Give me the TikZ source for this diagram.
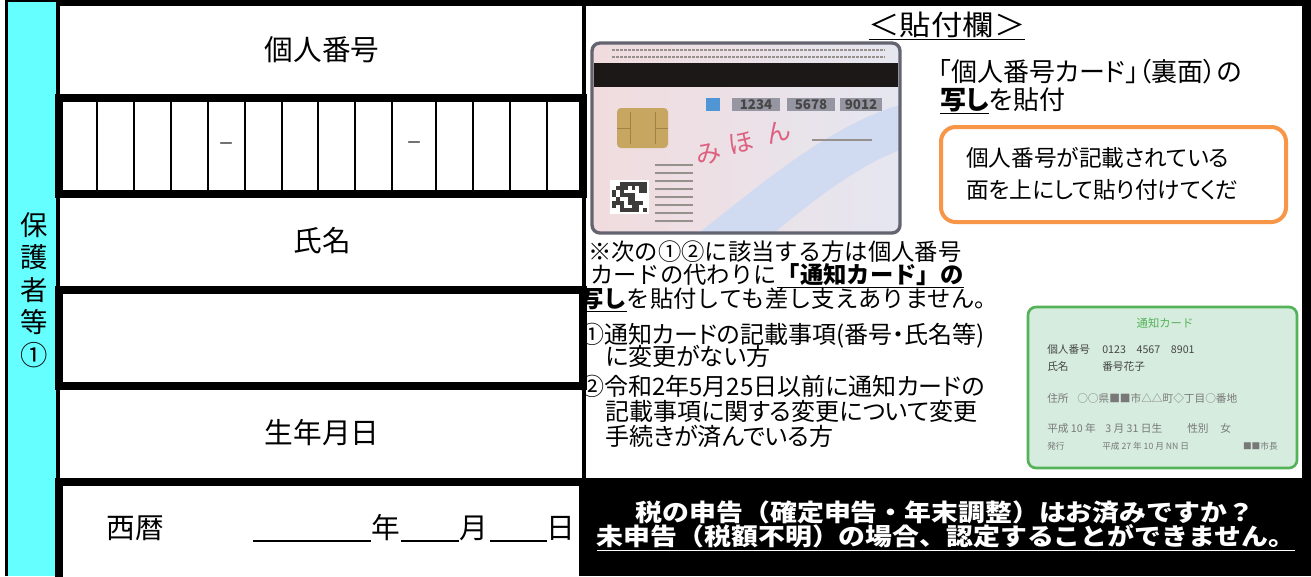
\documentclass[tikz,border=0pt]{standalone}
\usepackage{fontspec}
\newfontfamily\jp{Noto Sans CJK JP}
\newfontfamily\jpp[RawFeature=+palt]{Noto Sans CJK JP}
\newfontfamily\jpx[FakeStretch=1.12]{Noto Sans CJK JP}
\definecolor{guardcyan}{RGB}{102,255,255}
\definecolor{noteorange}{RGB}{247,150,70}
\definecolor{tsuchigreen}{RGB}{84,178,88}
\definecolor{tsuchifill}{RGB}{214,236,222}
\definecolor{tsuchigray}{RGB}{70,70,70}
\definecolor{tsuchilight}{RGB}{120,120,120}
\definecolor{cardpink}{RGB}{240,220,222}
\definecolor{cardlav}{RGB}{230,230,240}
\definecolor{cardblue}{RGB}{208,218,240}
\definecolor{cardrim}{RGB}{100,100,112}
\definecolor{cardstripe}{RGB}{28,24,24}
\definecolor{cardfaint}{RGB}{150,145,140}
\definecolor{chipgold}{RGB}{198,166,96}
\definecolor{chipline}{RGB}{160,130,70}
\definecolor{iconblue}{RGB}{80,150,212}
\definecolor{numgray}{RGB}{150,150,162}
\definecolor{mihonpink}{RGB}{222,96,128}
\tikzset{
  heavy/.style={line width=6pt},
  cellrule/.style={line width=1pt},
  fieldline/.style={line width=1.2pt},
  rowlabel/.style={inner sep=0pt, font=\jp\fontsize{21.5}{26}\selectfont},
  notetext/.style={anchor=base west, inner sep=0pt, font=\jp\fontsize{17.5}{21}\selectfont},
  gothtext/.style={anchor=base west, inner sep=0pt, font=\jpp\fontsize{18}{22}\selectfont},
  captext/.style={anchor=base west, inner sep=0pt, font=\jpp\fontsize{19.5}{24}\selectfont},
  tsuchi/.style={anchor=base west, inner sep=0pt, text=tsuchigray, font=\jp\fontsize{8}{10}\selectfont},
  tsuchismall/.style={tsuchi, text=tsuchilight, font=\jp\fontsize{6.5}{8}\selectfont},
  cardnum/.style={inner sep=0pt, text=tsuchigray, font=\jp\bfseries\fontsize{10}{12}\selectfont},
  mihon/.style={inner sep=0pt, text=mihonpink, font=\jp\fontsize{19}{22}\selectfont},
  bannertext/.style={inner sep=0pt, text=white, font=\jpx\bfseries\fontsize{18}{22}\selectfont},
}
\begin{document}
\begin{tikzpicture}[x=0.75pt,y=-0.75pt]
    \useasboundingbox (0,0) rectangle (1311,576);
    \fill[white] (0,0) rectangle (1311,576);
    % Frame
    \fill[guardcyan] (8,1.5) rectangle (56,576);
    \fill (5,0) rectangle (8,576);
    \fill (5,0) rectangle (56,1.5);
    \fill (56,0) rectangle (1311,6);
    \fill (56,0) rectangle (60,576);
    \fill (1302,0) rectangle (1311,576);
    \fill (582,6) rectangle (586,478);
    \node[rowlabel, align=center, font=\jp\fontsize{20.5}{24.4}\selectfont] (guardian) at (34,290) {保\\護\\者\\等\\①};
    % Number
    \node[rowlabel] (numberlbl) at (322,50) {個人番号};
    \draw[heavy] (59,98) rectangle (583,193.5);
    \foreach \x in {97,134,171,208,245,282,318,355,392,436,473,510,547}
        \draw[cellrule] (\x,102) -- (\x,190);
    \node[inner sep=0pt, font=\jp\fontsize{12}{14}\selectfont] (dash1) at (226,146) {－};
    \node[inner sep=0pt, font=\jp\fontsize{12}{14}\selectfont] (dash2) at (414,145) {－};
    % Name
    \node[rowlabel] (namelbl) at (322,241) {氏名};
    \draw[heavy] (59,290) rectangle (583,385.5);
    % Birthday
    \node[rowlabel] (birthlbl) at (322,433) {生年月日};
    \draw[heavy] (59,580) -- (59,482) -- (583,482);
    \node[rowlabel] (seireki) at (135,528) {西暦};
    \node[rowlabel] (year) at (385.5,528) {年};
    \node[rowlabel] (month) at (473.5,528) {月};
    \node[rowlabel] (day) at (561,528) {日};
    \draw[fieldline] (253,541) -- (371,541) (401,541) -- (459,541) (490,541) -- (547,541);
    % Paste area
    \node[inner sep=0pt, font=\jpx\fontsize{21}{25}\selectfont] (pastehdr) at (947,26) {\underline{＜貼付欄＞}};
    \node[captext] (cap1) at (938,81) {「個人番号カード」（裏面）の};
    \node[captext] (cap2) at (940,109) {\underline{\bfseries 写し}を貼付};
    \draw[noteorange, line width=3pt, rounded corners=11pt] (941,127) rectangle (1286,222);
    \node[inner sep=0pt, align=left, anchor=west, font=\jpp\fontsize{17}{23.5}\selectfont] (pastenote) at (966,174) {個人番号が記載されている\\面を上にして貼り付けてくだ};
    % Card
    \shade[rounded corners=6pt, left color=cardpink, right color=cardlav] (592,43) rectangle (900,233);
    \fill[cardblue] (900,105) .. controls (830,125) and (760,185) .. (700,232) -- (775,232) .. controls (820,195) and (860,165) .. (900,150) -- cycle;
    \fill[cardstripe] (594,63) rectangle (898,87);
    \draw[cardfaint, line width=1.5pt, dash pattern=on 2pt off 1pt] (612,50) -- (885,50) (612,57) -- (885,57);
    \fill[chipgold, rounded corners=3pt] (617,108) rectangle (668,148);
    \draw[chipline] (630,112) -- (630,144) (655,112) -- (655,144) (617,128) -- (630,128) (655,128) -- (668,128);
    \fill[iconblue] (706,98) rectangle (720,111);
    \foreach \x/\w/\num [count=\k] in {732/48/1234,787/48/5678,840/42/9012} {
        \fill[numgray] (\x,98) rectangle ++(\w,13);
        \node[cardnum] (cardno\k) at (\x+\w/2,104.5) {\num};
    }
    \node[mihon, rotate=8] (mihon1) at (709,154) {み};
    \node[mihon, rotate=12] (mihon2) at (741,143) {ほ};
    \node[mihon, rotate=16] (mihon3) at (778,132) {ん};
    \foreach \y in {165,173,...,221}
        \draw[cardfaint, line width=1.2pt] (655,\y) -- (693,\y);
    \draw[cardfaint, line width=1.2pt] (812,140) -- (872,140);
    \fill[white] (610,180) rectangle (649,214);
    \pgfmathsetseed{12}
    \foreach \i in {0,...,8}
        \foreach \j in {0,...,7} {
            \pgfmathtruncatemacro\bit{rnd>0.45}
            \ifnum\bit=1 \fill[cardstripe!85] (612+\i*3.9,182+\j*3.75) rectangle ++(3.9,3.75); \fi
        }
    \draw[cardrim, line width=2.5pt, rounded corners=6pt] (592,43) rectangle (900,233);
    % Notes
    \node[notetext] (note1) at (588,260) {※次の①②に該当する方は個人番号};
    \node[notetext] (note2) at (590,283) {カードの代わりに\underline{\bfseries 「通知カード」の}};
    \node[notetext] (note3) at (580,307) {\underline{\bfseries 写し}を貼付しても差し支えありません。};
    \node[gothtext] (note4) at (580,343) {①通知カードの記載事項(番号・氏名等)};
    \node[gothtext] (note5) at (605,365) {に変更がない方};
    \node[gothtext] (note6) at (580,395) {②令和2年5月25日以前に通知カードの};
    \node[gothtext] (note7) at (605,420) {記載事項に関する変更について変更};
    \node[gothtext] (note8) at (605,445) {手続きが済んでいる方};
    % Notification card
    \draw[tsuchigreen, fill=tsuchifill, line width=2pt, rounded corners=6pt] (1028,307) rectangle (1297,468);
    \node[inner sep=0pt, text=tsuchigreen, font=\jp\fontsize{8.5}{10}\selectfont] (tctitle) at (1165,323) {通知カード};
    \node[tsuchi] (tcnolbl) at (1047,353) {個人番号};
    \node[tsuchi] (tcno) at (1102,353) {0123\quad 4567\quad 8901};
    \node[tsuchi] (tcnamelbl) at (1047,370) {氏名};
    \node[tsuchi] (tcname) at (1102,370) {番号花子};
    \node[tsuchi, text=tsuchilight] (tcaddrlbl) at (1047,402) {住所};
    \node[tsuchi, text=tsuchilight] (tcaddr) at (1077,402) {○○県■■市△△町◇丁目○番地};
    \node[tsuchi, text=tsuchilight] (tcera) at (1047,432) {平成 10 年};
    \node[tsuchi, text=tsuchilight] (tcbirth) at (1105,432) {3 月 31 日生};
    \node[tsuchi, text=tsuchilight] (tcsexlbl) at (1187,432) {性別};
    \node[tsuchi, text=tsuchilight] (tcsex) at (1220,432) {女};
    \node[tsuchismall] (tcissuelbl) at (1047,449) {発行};
    \node[tsuchismall] (tcissue) at (1102,449) {平成 27 年 10 月 NN 日};
    \node[tsuchismall, anchor=base east] (tcmayor) at (1278,449) {■■市長};
    % Banner
    \fill (579,478) rectangle (1311,576);
    \node[bannertext] (tax1) at (945,512) {税の申告（確定申告・年末調整）はお済みですか？};
    \node[bannertext] (tax2) at (946,538) {\underline{未申告（税額不明）の場合、認定することができません。}};
\end{tikzpicture}
\end{document}
